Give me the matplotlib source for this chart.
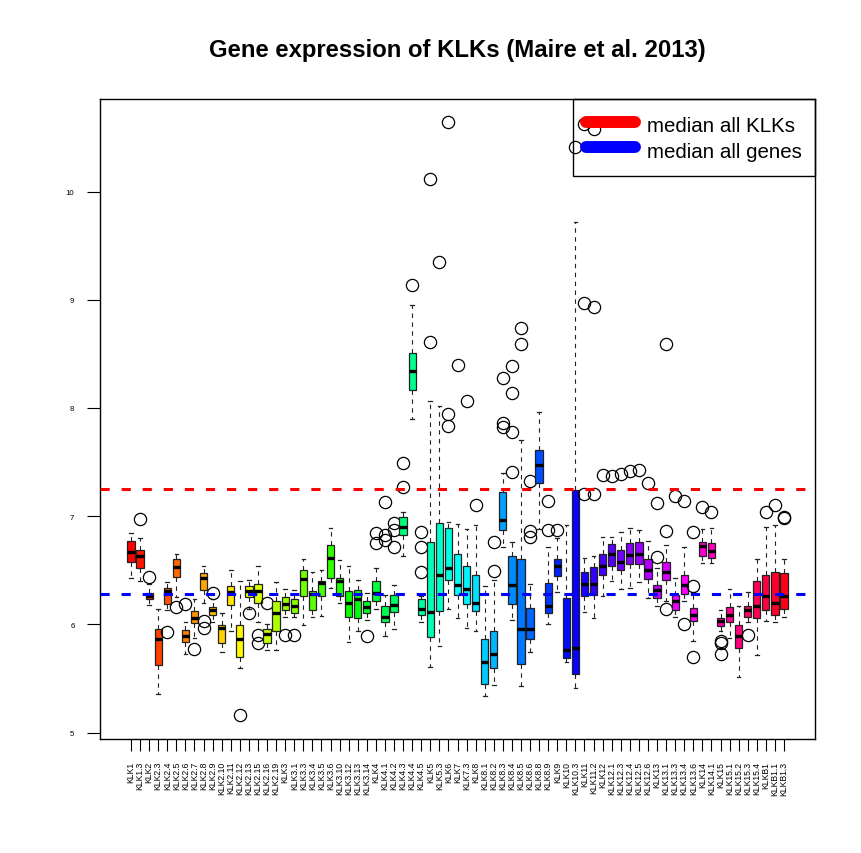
import numpy as np
import matplotlib
matplotlib.use("Agg")
import matplotlib.pyplot as plt
from matplotlib.colors import hsv_to_rgb
from matplotlib.lines import Line2D

plt.rcParams["font.family"] = ["Liberation Sans", "DejaVu Sans"]

labels = ["KLK1", "KLK1.3", "KLK2", "KLK2.3", "KLK2.4", "KLK2.5", "KLK2.6", "KLK2.7",
          "KLK2.8", "KLK2.9", "KLK2.10", "KLK2.11", "KLK2.12", "KLK2.13", "KLK2.15",
          "KLK2.16", "KLK2.19", "KLK3", "KLK3.1", "KLK3.3", "KLK3.4", "KLK3.5", "KLK3.6",
          "KLK3.10", "KLK3.12", "KLK3.13", "KLK3.14", "KLK4", "KLK4.1", "KLK4.2", "KLK4.3",
          "KLK4.4", "KLK4.5", "KLK5", "KLK5.3", "KLK6", "KLK7", "KLK7.3", "KLK8", "KLK8.1",
          "KLK8.2", "KLK8.3", "KLK8.4", "KLK8.5", "KLK8.6", "KLK8.8", "KLK8.9", "KLK9",
          "KLK10", "KLK10.3", "KLK11", "KLK11.2", "KLK12", "KLK12.1", "KLK12.3", "KLK12.4",
          "KLK12.5", "KLK12.6", "KLK13", "KLK13.1", "KLK13.3", "KLK13.4", "KLK13.6", "KLK14",
          "KLK14.1", "KLK15", "KLK15.1", "KLK15.2", "KLK15.3", "KLK15.4", "KLKB1",
          "KLKB1.1", "KLKB1.3"]

whisker_low = [6.43, 6.40, 6.18, 5.36, 6.13, 6.25, 5.73, 5.87, 6.20, 6.02, 5.74, 5.94, 5.60,
               6.14, 6.02, 5.76, 5.76, 6.07, 6.07, 5.99, 6.07, 6.08, 6.34, 6.20, 5.84, 5.94,
               6.04, 6.14, 5.89, 5.96, 6.63, 7.90, 6.02, 5.61, 5.80, 6.14, 6.06, 5.97, 5.94,
               5.34, 5.44, 6.71, 6.04, 5.43, 5.74, 6.88, 6.00, 6.30, 5.65, 5.41, 6.11, 6.06,
               6.26, 6.40, 6.33, 6.34, 6.39, 6.24, 6.17, 6.22, 6.07, 6.22, 5.85, 6.57, 6.57,
               5.94, 5.87, 5.51, 6.02, 5.72, 6.03, 6.02, 6.07]
q1 = [6.58, 6.52, 6.23, 5.62, 6.19, 6.44, 5.84, 6.01, 6.32, 6.09, 5.83, 6.18, 5.70, 6.25,
      6.20, 5.83, 5.94, 6.13, 6.10, 6.26, 6.13, 6.26, 6.43, 6.26, 6.07, 6.06, 6.10, 6.22,
      6.02, 6.11, 6.83, 8.17, 6.09, 5.88, 6.12, 6.41, 6.27, 6.19, 6.12, 5.45, 5.60, 6.87,
      6.19, 5.63, 5.86, 7.31, 6.10, 6.45, 5.69, 5.54, 6.26, 6.27, 6.46, 6.54, 6.50, 6.56,
      6.56, 6.42, 6.24, 6.41, 6.13, 6.28, 6.03, 6.63, 6.61, 5.98, 6.02, 5.78, 6.07, 6.06,
      6.13, 6.09, 6.14]
median = [6.665, 6.63, 6.26, 5.86, 6.31, 6.53, 5.89, 6.06, 6.43, 6.13, 5.97, 6.30, 5.86,
          6.31, 6.31, 5.91, 6.10, 6.19, 6.17, 6.42, 6.28, 6.38, 6.61, 6.40, 6.20, 6.23, 6.16,
          6.29, 6.07, 6.18, 6.90, 8.34, 6.14, 6.11, 6.46, 6.52, 6.36, 6.33, 6.20, 5.65, 5.73,
          6.96, 6.36, 5.96, 5.96, 7.47, 6.17, 6.54, 5.76, 5.78, 6.37, 6.37, 6.54, 6.65, 6.58,
          6.64, 6.65, 6.50, 6.32, 6.48, 6.22, 6.36, 6.09, 6.72, 6.68, 6.03, 6.09, 5.89, 6.13,
          6.17, 6.26, 6.20, 6.26]
q3 = [6.77, 6.69, 6.29, 5.96, 6.34, 6.60, 5.95, 6.12, 6.47, 6.16, 5.99, 6.35, 5.99, 6.35,
      6.37, 5.96, 6.22, 6.25, 6.23, 6.50, 6.31, 6.40, 6.73, 6.43, 6.31, 6.32, 6.22, 6.40,
      6.17, 6.27, 6.99, 8.51, 6.23, 6.76, 6.94, 6.89, 6.65, 6.54, 6.46, 5.86, 5.94, 7.22,
      6.63, 6.60, 6.15, 7.61, 6.38, 6.60, 6.24, 7.24, 6.48, 6.53, 6.65, 6.74, 6.69, 6.75,
      6.76, 6.60, 6.36, 6.58, 6.27, 6.46, 6.15, 6.76, 6.75, 6.06, 6.16, 5.99, 6.17, 6.40,
      6.46, 6.48, 6.47]
whisker_high = [6.84, 6.80, 6.37, 6.14, 6.39, 6.65, 6.02, 6.23, 6.54, 6.23, 6.10, 6.50, 6.40,
                6.41, 6.54, 6.00, 6.39, 6.33, 6.32, 6.60, 6.48, 6.50, 6.89, 6.59, 6.54, 6.41,
                6.29, 6.52, 6.27, 6.36, 7.04, 8.95, 6.26, 8.06, 8.02, 6.95, 6.93, 6.88, 6.92,
                6.35, 6.41, 7.40, 6.76, 7.70, 6.37, 7.96, 6.71, 6.80, 6.92, 9.72, 6.61, 6.63,
                6.81, 6.81, 6.85, 6.89, 6.87, 6.77, 6.52, 6.73, 6.43, 6.71, 6.30, 6.88, 6.89,
                6.13, 6.33, 6.17, 6.30, 6.60, 6.90, 6.92, 6.60]
outliers = [[], [6.97], [6.44], [], [5.93], [6.16], [6.19], [5.77], [6.03, 5.97], [6.29],
            [], [], [5.16], [6.10], [5.90, 5.83], [6.20], [], [5.90], [5.90], [], [], [], [],
            [], [], [], [5.89], [6.84, 6.75], [7.13, 6.83, 6.78], [6.94, 6.87, 6.71],
            [7.49, 7.27], [9.14], [6.85, 6.71, 6.48], [10.12, 8.61], [9.35],
            [10.64, 7.94, 7.83], [8.40], [8.06], [7.10], [], [6.76, 6.49], [8.28, 7.86, 7.82],
            [8.39, 8.14, 7.78, 7.41], [8.74, 8.59], [7.32, 6.86, 6.81], [], [7.14, 6.87],
            [6.87], [], [10.41], [10.62, 8.97, 7.20], [10.58, 8.93, 7.20], [7.38], [7.37],
            [7.39], [7.42], [7.43], [7.31], [7.12, 6.62], [8.59, 6.86, 6.14], [7.19],
            [7.14, 6.00], [6.85, 6.35, 5.70], [7.08], [7.04], [5.85, 5.83, 5.73], [], [],
            [5.90], [], [7.04], [7.10], [6.99, 6.98]]

median_all_klks = 7.25
median_all_genes = 6.28

n = len(labels)
positions = np.arange(1, n + 1)
colors = [hsv_to_rgb((i / n, 1.0, 1.0)) for i in range(n)]

fig = plt.figure(figsize=(8.61, 8.54), dpi=100)
ax = fig.add_axes([100 / 861, 1 - 740 / 854, 715 / 861, 640 / 854])

stats = [dict(label=lab, whislo=a, q1=b, med=c, q3=d, whishi=e, fliers=f)
         for lab, a, b, c, d, e, f in zip(labels, whisker_low, q1, median, q3,
                                          whisker_high, outliers)]
bp = ax.bxp(stats, positions=positions, widths=0.8, patch_artist=True,
            boxprops=dict(edgecolor="#222222", linewidth=0.9),
            whiskerprops=dict(color="#222222", linewidth=0.8, linestyle=(0, (4, 4))),
            capprops=dict(color="#222222", linewidth=0.9),
            medianprops=dict(color="black", linewidth=2.4, solid_capstyle="butt"),
            flierprops=dict(marker="o", markerfacecolor="none", markeredgecolor="black",
                            markersize=8.8, markeredgewidth=0.9))
for patch, col in zip(bp["boxes"], colors):
    patch.set_facecolor(col)

ax.axhline(median_all_klks, color="#ff0000", linewidth=2.2, linestyle=(0, (3.0, 3.9)),
           dash_capstyle="butt", zorder=5)
ax.axhline(median_all_genes, color="#0000ff", linewidth=2.2, linestyle=(0, (3.0, 3.9)),
           dash_capstyle="butt", zorder=5)

ax.set_xlim(0.5 - 0.04 * n, n + 0.5 + 0.04 * n)
ax.set_ylim(4.94, 10.855)
ax.set_xticks(positions)
ax.set_xticklabels(labels, rotation=90, fontsize=6.2)
ax.set_yticks([5, 6, 7, 8, 9, 10])
ax.set_yticklabels(["5", "6", "7", "8", "9", "10"], fontsize=5.6)
ax.tick_params(axis="x", length=8.6, width=0.8, pad=7)
ax.tick_params(axis="y", length=9.4, width=0.8, pad=9)
for sp in ax.spines.values():
    sp.set_linewidth(1.0)
    sp.set_color("black")

handles = [Line2D([0], [0], color="#ff0000", linewidth=8.6, solid_capstyle="round"),
           Line2D([0], [0], color="#0000ff", linewidth=8.6, solid_capstyle="round")]
leg = ax.legend(handles, ["median all KLKs", "median all genes"], loc="upper right",
                borderaxespad=0, fontsize=14.8, borderpad=0.65, labelspacing=0.05,
                handlelength=2.37, handleheight=1.45, handletextpad=0.57, fancybox=False,
                framealpha=1, facecolor="none", edgecolor="black")
leg.get_frame().set_linewidth(1.0)
leg.set_zorder(10)

fig.text(457.5 / 861, 1 - 50 / 854, "Gene expression of KLKs (Maire et al. 2013)",
         ha="center", va="center", fontsize=17.2, fontweight="bold")

fig.savefig("out.png", dpi=100)
